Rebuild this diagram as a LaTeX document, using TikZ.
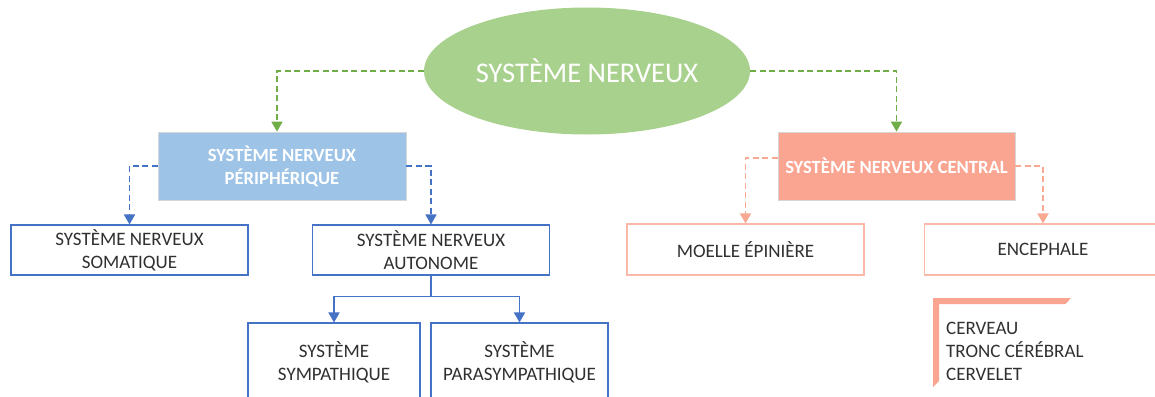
\documentclass[tikz,border=0pt]{standalone}
\usepackage{fontspec}
\setmainfont{Carlito}
\usetikzlibrary{arrows.meta,calc,shapes.geometric}
\definecolor{gfill}{HTML}{A9D18E}
\definecolor{gline}{HTML}{70AD47}
\definecolor{bfill}{HTML}{9DC3E6}
\definecolor{bline}{HTML}{4472C4}
\definecolor{rfill}{HTML}{FAA591}
\definecolor{rline}{HTML}{F9A892}
\definecolor{rbord}{HTML}{F9B8A8}
\definecolor{txt}{HTML}{303030}
\definecolor{gbord}{HTML}{D6D6D6}
\begin{document}
\begin{tikzpicture}[x=1pt,y=-1pt,
  tip/.style={-{Triangle[width=11pt,length=10pt]}},
  dconn/.style={tip,dash pattern=on 6pt off 3.5pt,line width=1.7pt},
  topbox/.style={rectangle,draw=gbord,line width=0.8pt,minimum height=68pt,text=white,align=center,font=\fontsize{18.6}{23}\selectfont\bfseries,inner sep=0pt},
  leaf/.style={rectangle,line width=1.1pt,fill=white,minimum width=237pt,text=txt,align=center,font=\fontsize{19}{23}\selectfont,inner sep=0pt}
]
\useasboundingbox (0,0) rectangle (1155,396);
\clip (0,0) rectangle (1155,396);
% root
\node[ellipse,fill=gfill,minimum width=326pt,minimum height=127pt,inner sep=0pt,text=white,font=\fontsize{28.5}{32}\selectfont] (root) at (587,71) {SYSTÈME NERVEUX};
% level 1
\node[topbox,fill=bfill,minimum width=248pt] (pns) at (282,166) {SYSTÈME NERVEUX\\PÉRIPHÉRIQUE};
\node[topbox,fill=rfill,minimum width=237pt] (cns) at (896.5,166) {SYSTÈME NERVEUX CENTRAL};
% level 2
\node[leaf,draw=bline,minimum height=50pt] (som) at (129.5,250) {SYSTÈME NERVEUX\\SOMATIQUE};
\node[leaf,draw=bline,minimum height=50pt] (aut) at (431,250) {SYSTÈME NERVEUX\\AUTONOME};
\node[leaf,draw=rbord,minimum height=51pt] (moe) at (745.5,249.5) {MOELLE ÉPINIÈRE};
\node[leaf,draw=rbord,minimum height=51pt] (enc) at (1043,249.5) {ENCEPHALE};
% level 3
\node[leaf,draw=bline,minimum width=172pt,minimum height=78pt] (sym) at (334,362) {SYSTÈME\\SYMPATHIQUE};
\node[leaf,draw=bline,minimum width=177pt,minimum height=78pt] (par) at (519.5,362) {SYSTÈME\\PARASYMPATHIQUE};
% connectors
\draw[dconn,gline] (root.west) -| ($(pns.north)+(-5,0)$);
\draw[dconn,gline] (root.east) -| (cns.north);
\draw[dconn,bline] (pns.west) -| (som.north);
\draw[dconn,bline] (pns.east) -| (aut.north);
\draw[dconn,rline] ($(cns.west)+(0,-8)$) -| (moe.north);
\draw[dconn,rline] (cns.east) -| (enc.north);
\coordinate (fork) at ($(aut.south)+(0,21)$);
\draw[line width=1.7pt,bline] (aut.south) -- (fork);
\draw[tip,line width=1.7pt,bline] (fork) -| (sym.north);
\draw[tip,line width=1.7pt,bline] (fork) -| (par.north);
% half frame
\fill[rfill] (933,298) -- (1071,298) -- (1065.5,304) -- (939,304) -- (939,381) -- (933,387) -- cycle;
\node[anchor=west,align=left,text=txt,font=\fontsize{19}{23}\selectfont,inner sep=0pt] (brain) at (946,351) {CERVEAU\\TRONC CÉRÉBRAL\\CERVELET};
\end{tikzpicture}
\end{document}
